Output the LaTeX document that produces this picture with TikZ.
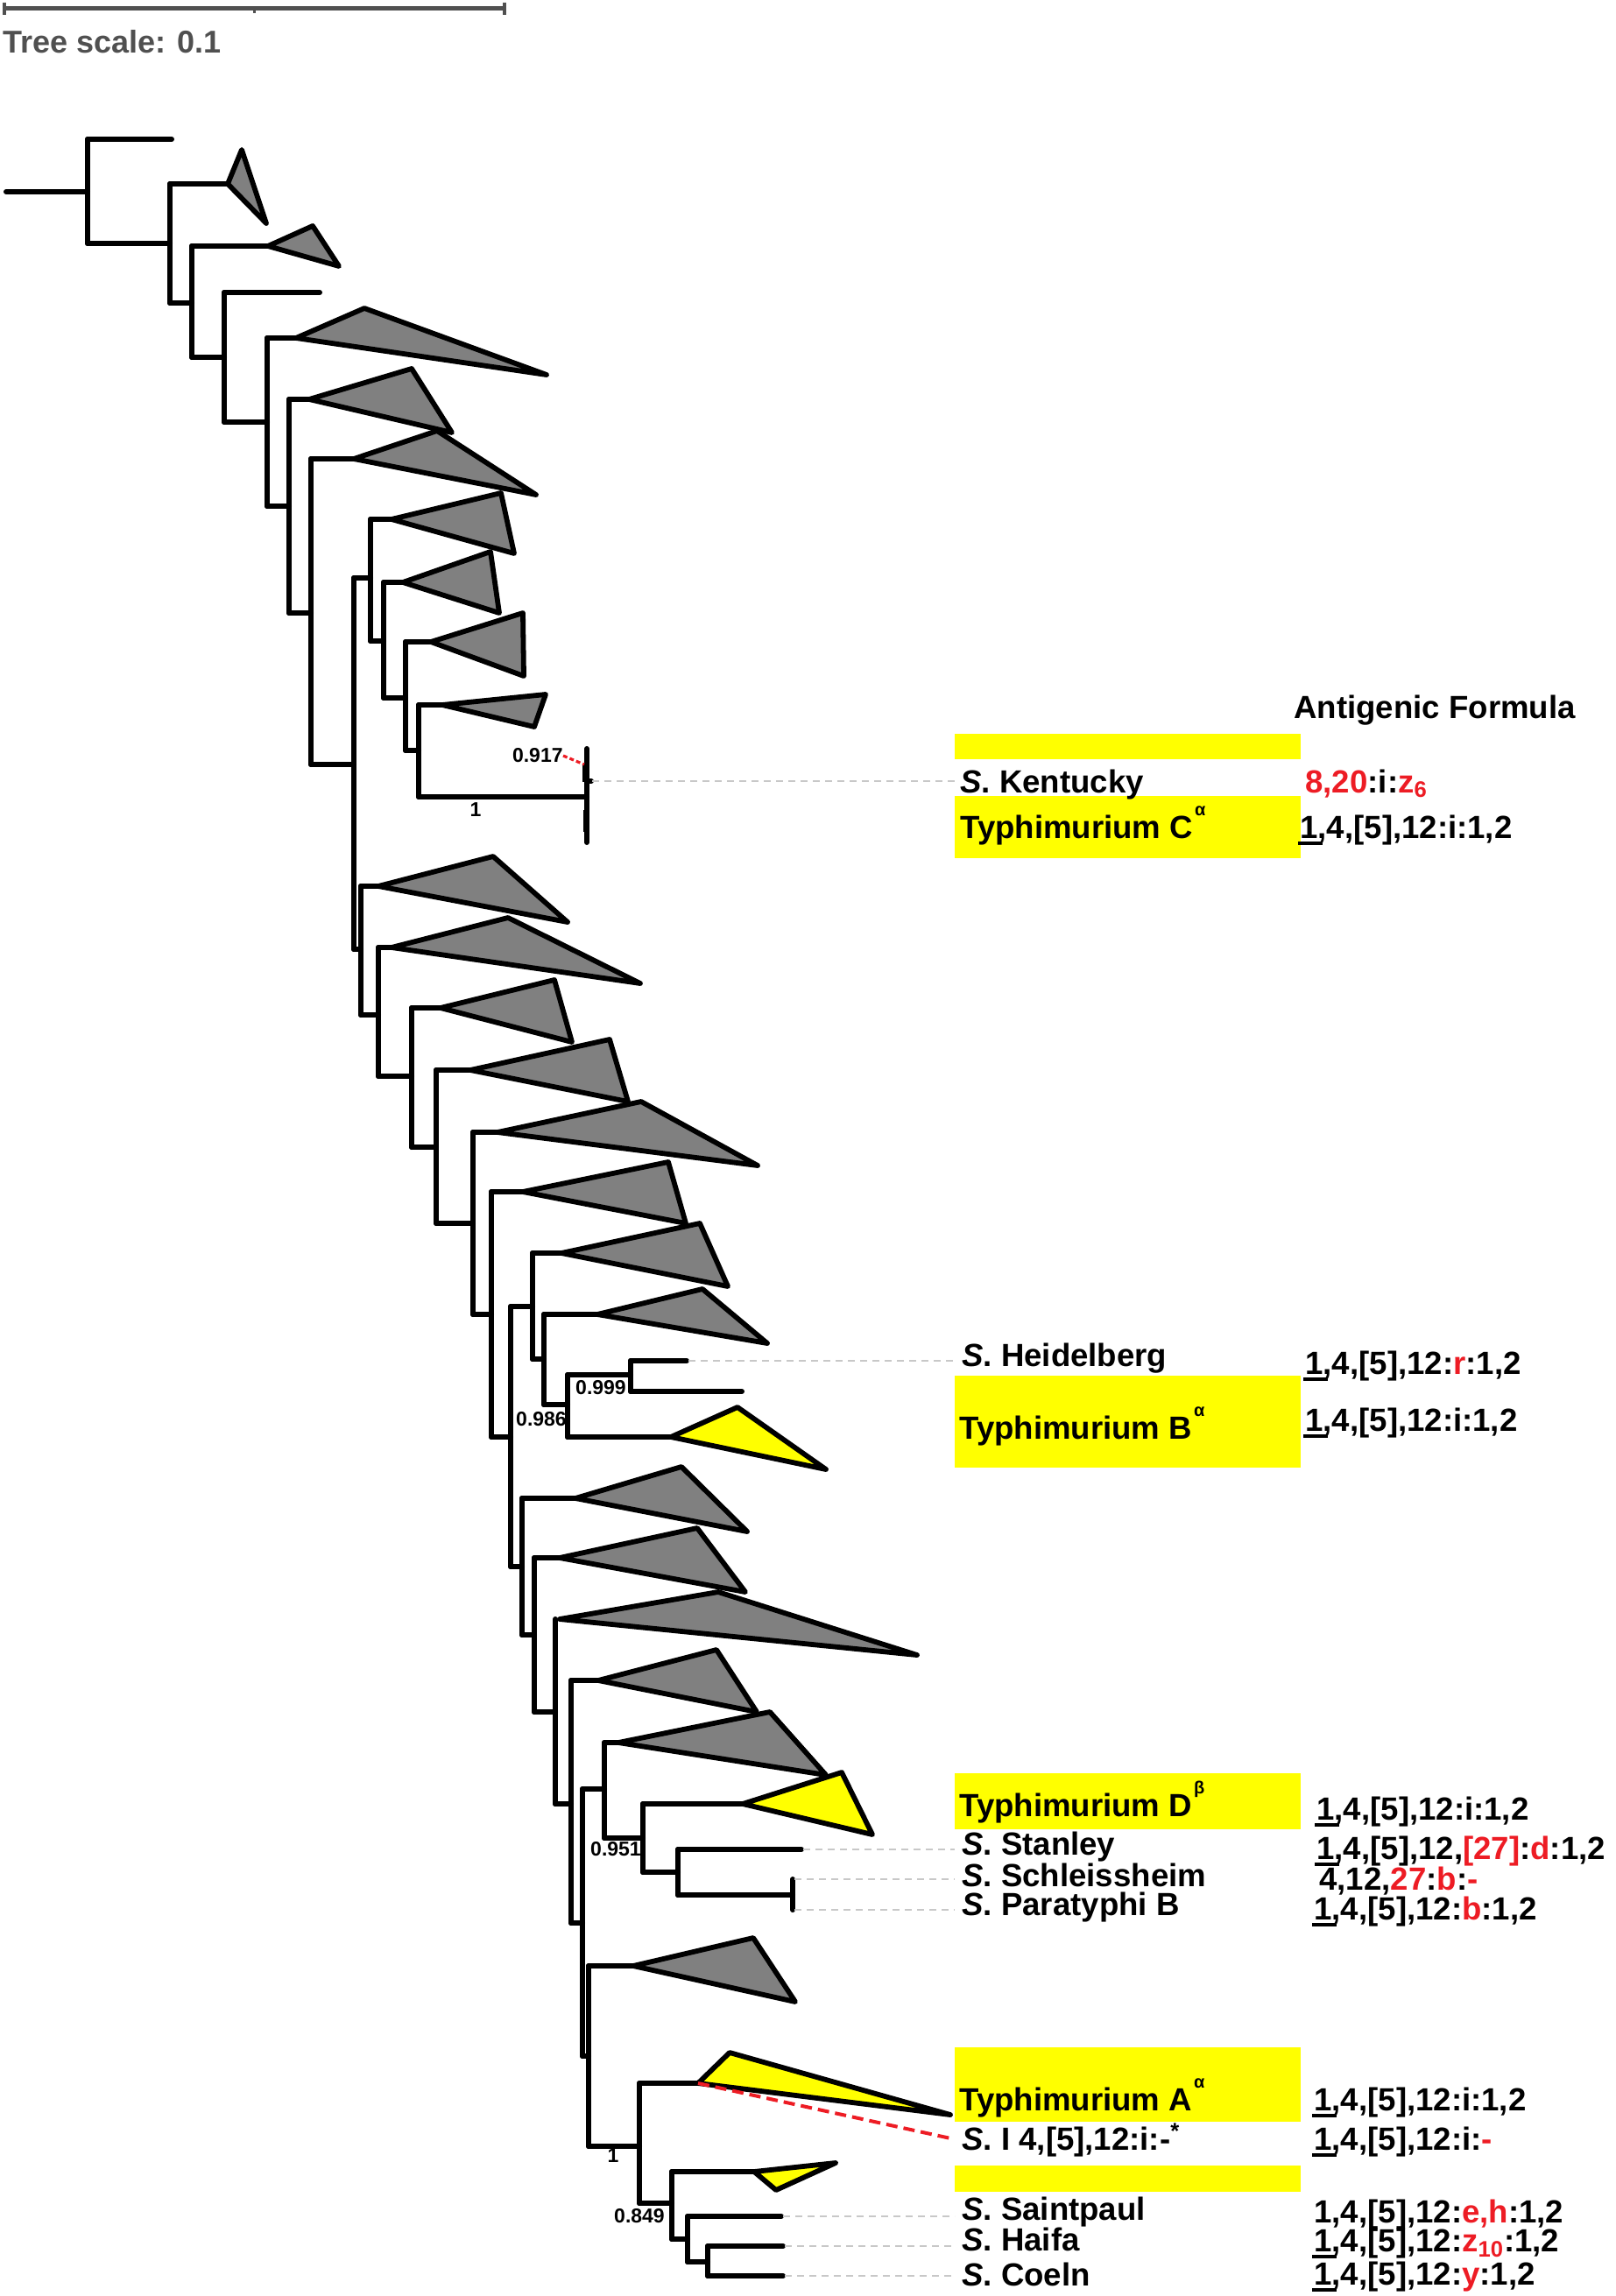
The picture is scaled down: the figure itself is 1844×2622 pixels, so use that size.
\documentclass[tikz,border=0pt]{standalone}
\usepackage{fontspec}
\setmainfont{Liberation Sans}
\definecolor{tgray}{HTML}{808080}
\definecolor{tyel}{HTML}{FFFF00}
\definecolor{tred}{HTML}{ED1C24}
\definecolor{sgray}{HTML}{505050}
\definecolor{lgray}{HTML}{C8C8C8}
\newcommand\rd[1]{\textcolor{tred}{#1}}
\newcommand\uo{\makebox[0pt][l]{\hspace{-1pt}\rule[-4.2pt]{14pt}{2.2pt}}1}
\newcommand\gsup[1]{\kern1pt\raisebox{13pt}{\fontsize{10}{10}\selectfont #1}}
\newcommand\Sn{\textit{S}.\ }
\newcommand\vbr[3]{\draw[br] (#1,#2) -- (#1,#3);}
\newcommand\hbr[3]{\draw[br] (#1,#3) -- (#2,#3);}
\newcommand\ctri[4]{\draw[tri,fill=#4] (#1) -- (#2) -- (#3) -- cycle;}
\tikzset{
 br/.style={line width=3pt, line cap=round},
 tri/.style={draw=black, line width=2.9pt, line join=round},
 lab/.style={anchor=base west, inner sep=0pt, font=\fontsize{18.3}{20}\selectfont\bfseries},
 sup/.style={anchor=center, inner sep=0pt, font=\fontsize{11.5}{12}\selectfont\bfseries},
 lead/.style={lgray, line width=0.8pt, dash pattern=on 4pt off 3pt},
}
\begin{document}
\begin{tikzpicture}[x=0.5pt,y=-0.5pt]
\useasboundingbox (0,0) rectangle (1844,2622);
% scale bar
\draw[sgray, line width=2.5pt] (5,10) -- (576,10);
\draw[sgray, line width=2pt] (5,3) -- (5,17) (576,3) -- (576,17);
\draw[sgray, line width=1.5pt] (290,10) -- (290,15);
\node[anchor=base west, inner sep=0pt, text=sgray, font=\fontsize{18}{20}\selectfont\bfseries] (scale) at (3,61) {Tree scale: 0.1};
% tree
\hbr{7}{100}{219}
\vbr{100}{159}{278}
\hbr{100}{196}{159}
\hbr{100}{194}{278}
\vbr{194}{210}{346}
\hbr{194}{260}{210}
\ctri{260,210}{276,171}{304,255}{tgray}
\hbr{194}{219}{346}
\vbr{219}{281}{408}
\hbr{219}{306}{281}
\ctri{306,281}{357,258}{387,304}{tgray}
\hbr{219}{256}{408}
\vbr{256}{334}{482}
\hbr{256}{365}{334}
\hbr{256}{305}{482}
\vbr{305}{386}{578}
\hbr{305}{338}{386}
\ctri{338,386}{416,352}{624,428}{tgray}
\hbr{305}{330}{578}
\vbr{330}{456}{700}
\hbr{330}{353}{456}
\ctri{353,456}{470,421}{516,494}{tgray}
\hbr{330}{355}{700}
\vbr{355}{524}{873}
\hbr{355}{404}{524}
\ctri{404,524}{499,492}{612,565}{tgray}
\hbr{355}{404}{873}
\vbr{404}{660}{1084}
\hbr{404}{423}{660}
\vbr{423}{593}{732}
\hbr{423}{447}{593}
\ctri{447,593}{572,563}{587,632}{tgray}
\hbr{423}{438}{732}
\vbr{438}{665}{797}
\hbr{438}{460}{665}
\ctri{460,665}{560,630}{570,700}{tgray}
\hbr{438}{463}{797}
\vbr{463}{733}{857}
\hbr{463}{492}{733}
\ctri{492,733}{597,700}{598,772}{tgray}
\hbr{463}{478}{857}
\vbr{478}{805}{910}
\hbr{478}{505}{805}
\ctri{505,805}{623,793}{610,830}{tgray}
\hbr{478}{670}{910}
\vbr{670}{855}{962}
\draw[line width=3.5pt] (668,872) -- (668,893) (669,925) -- (669,950);
\hbr{670}{675}{892}
\hbr{404}{412}{1084}
\vbr{412}{1012}{1159}
\hbr{412}{432}{1012}
\ctri{432,1012}{563,978}{648,1053}{tgray}
\hbr{412}{432}{1159}
\vbr{432}{1082}{1229}
\hbr{432}{447}{1082}
\ctri{447,1082}{580,1048}{731,1123}{tgray}
\hbr{432}{470}{1229}
\vbr{470}{1151}{1310}
\hbr{470}{503}{1151}
\ctri{503,1151}{633,1119}{653,1190}{tgray}
\hbr{470}{498}{1310}
\vbr{498}{1222}{1397}
\hbr{498}{537}{1222}
\ctri{537,1222}{696,1187}{717,1258}{tgray}
\hbr{498}{540}{1397}
\vbr{540}{1293}{1501}
\hbr{540}{568}{1293}
\ctri{568,1293}{732,1258}{865,1331}{tgray}
\hbr{540}{561}{1501}
\vbr{561}{1361}{1641}
\hbr{561}{597}{1361}
\ctri{597,1361}{763,1327}{783,1397}{tgray}
\hbr{561}{583}{1641}
\vbr{583}{1492}{1789}
\hbr{583}{608}{1492}
\vbr{608}{1431}{1552}
\hbr{608}{641}{1431}
\ctri{641,1431}{799,1397}{831,1469}{tgray}
\hbr{608}{621}{1552}
\vbr{621}{1501}{1604}
\hbr{621}{682}{1501}
\ctri{682,1501}{802,1472}{876,1534}{tgray}
\hbr{621}{648}{1604}
\vbr{648}{1570}{1641}
\hbr{648}{720}{1570}
\vbr{720}{1554}{1589}
\hbr{720}{784}{1554}
\hbr{720}{847}{1589}
\hbr{648}{766}{1641}
\ctri{766,1641}{842,1607}{943,1678}{tyel}
\hbr{583}{596}{1789}
\vbr{596}{1711}{1867}
\hbr{596}{657}{1711}
\ctri{657,1711}{778,1675}{853,1749}{tgray}
\hbr{596}{610}{1867}
\vbr{610}{1779}{1955}
\hbr{610}{639}{1779}
\ctri{639,1779}{796,1745}{851,1818}{tgray}
\hbr{610}{634}{1955}
\vbr{634}{1849}{2060}
\ctri{639,1849}{820,1818}{1047,1890}{tgray}
\hbr{634}{652}{2060}
\vbr{652}{1919}{2196}
\hbr{652}{683}{1919}
\ctri{683,1919}{818,1884}{864,1955}{tgray}
\hbr{652}{665}{2196}
\vbr{665}{2043}{2348}
\hbr{665}{690}{2043}
\vbr{690}{1990}{2099}
\hbr{690}{706}{1990}
\ctri{706,1990}{879,1955}{943,2027}{tgray}
\hbr{690}{734}{2099}
\vbr{734}{2060}{2138}
\hbr{734}{848}{2060}
\ctri{848,2060}{961,2024}{996,2095}{tyel}
\hbr{734}{774}{2138}
\vbr{774}{2112}{2164}
\hbr{774}{915}{2112}
\hbr{774}{905}{2164}
\vbr{905}{2146}{2181}
\hbr{665}{672}{2348}
\vbr{672}{2245}{2451}
\hbr{672}{723}{2245}
\ctri{723,2245}{860,2213}{908,2286}{tgray}
\hbr{672}{730}{2451}
\vbr{730}{2379}{2516}
\hbr{730}{797}{2379}
\ctri{797,2379}{833,2344}{1085,2415}{tyel}
\hbr{730}{767}{2516}
\vbr{767}{2480}{2557}
\hbr{767}{861}{2480}
\ctri{861,2480}{954,2470}{886,2501}{tyel}
\hbr{767}{785}{2557}
\vbr{785}{2531}{2583}
\hbr{785}{892}{2531}
\hbr{785}{808}{2583}
\vbr{808}{2565}{2599}
\hbr{808}{894}{2565}
\hbr{808}{894}{2599}
% support values
\node[sup, anchor=east] (s917) at (643,863) {0.917};
\draw[tred, line width=1.6pt, dash pattern=on 2.5pt off 1.5pt] (s917.east) -- (667,873);
\node[sup] (s1a) at (543,925) {1};
\node[sup] (s999) at (686,1585) {0.999};
\node[sup] (s986) at (618,1621) {0.986};
\node[sup] (s951) at (703,2112) {0.951};
\node[sup] (s1b) at (700,2462) {1};
\node[sup] (s849) at (730,2531) {0.849};
% yellow boxes
\fill[tyel] (1090,838) rectangle (1485,867);
\fill[tyel] (1090,909) rectangle (1485,980);
\fill[tyel] (1090,1571) rectangle (1485,1676);
\fill[tyel] (1090,2025) rectangle (1485,2089);
\fill[tyel] (1090,2338) rectangle (1485,2423);
\fill[tyel] (1090,2473) rectangle (1485,2503);
% labels
\node[lab] (hdr) at (1477,820) {Antigenic Formula};
\node[lab] (ky) at (1096,905) {\Sn Kentucky};
\node[lab] (kyf) at (1490,905) {\rd{8,20}:i:\rd{z\textsubscript{6}}};
\node[lab] (tc) at (1096,957) {Typhimurium C\gsup{α}};
\node[lab] (tcf) at (1484,957) {\uo,4,[5],12:i:1,2};
\node[lab] (hd) at (1098,1560) {\Sn Heidelberg};
\node[lab] (hdf) at (1490,1569) {\uo,4,[5],12:\rd{r}:1,2};
\node[lab] (tb) at (1095,1643) {Typhimurium B\gsup{α}};
\node[lab] (tbf) at (1490,1634) {\uo,4,[5],12:i:1,2};
\node[lab] (td) at (1095,2074) {Typhimurium D\gsup{β}};
\node[lab] (tdf) at (1503,2078) {\uo,4,[5],12:i:1,2};
\node[lab] (st) at (1098,2118) {\Sn Stanley};
\node[lab] (stf) at (1503,2123) {\uo,4,[5],12,\rd{[27]}:\rd{d}:1,2};
\node[lab] (sc) at (1098,2154) {\Sn Schleissheim};
\node[lab] (scf) at (1506,2158) {4,12,\rd{27}:\rd{b}:\rd{-}};
\node[lab] (pb) at (1098,2187) {\Sn Paratyphi B};
\node[lab] (pbf) at (1500,2192) {\uo,4,[5],12:\rd{b}:1,2};
\node[lab] (ta) at (1095,2410) {Typhimurium A\gsup{α}};
\node[lab] (taf) at (1500,2410) {\uo,4,[5],12:i:1,2};
\node[lab] (si) at (1098,2455) {\Sn I 4,[5],12:i:-\textsuperscript{*}};
\node[lab] (sif) at (1500,2455) {\uo,4,[5],12:i:\rd{-}};
\node[lab] (sp) at (1098,2535) {\Sn Saintpaul};
\node[lab] (spf) at (1500,2538) {1,4,[5],12:\rd{e,h}:1,2};
\node[lab] (hf) at (1098,2570) {\Sn Haifa};
\node[lab] (hff) at (1500,2571) {\uo,4,[5],12:\rd{z\textsubscript{10}}:1,2};
\node[lab] (co) at (1098,2610) {\Sn Coeln};
\node[lab] (cof) at (1500,2609) {\uo,4,[5],12:\rd{y}:1,2};
% leader lines
\coordinate (kyL) at (676,892); \coordinate (kyR) at (1090,892);
\coordinate (hdL) at (786,1554); \coordinate (hdR) at (1090,1554);
\coordinate (stL) at (917,2112); \coordinate (stR) at (1090,2112);
\coordinate (scL) at (907,2146); \coordinate (scR) at (1090,2146);
\coordinate (pbL) at (907,2181); \coordinate (pbR) at (1090,2181);
\coordinate (spL) at (894,2531); \coordinate (spR) at (1090,2531);
\coordinate (hfL) at (896,2565); \coordinate (hfR) at (1090,2565);
\coordinate (coL) at (896,2599); \coordinate (coR) at (1090,2599);
\foreach \a in {ky,hd,st,sc,pb,sp,hf,co} {\draw[lead] (\a L) -- (\a R);}
% red dashed link
\coordinate (taApex) at (797,2379);
\coordinate (siEnd) at (1090,2443);
\draw[tred, line width=2pt, dash pattern=on 6.5pt off 3.5pt] (taApex) -- (siEnd);
\end{tikzpicture}
\end{document}
